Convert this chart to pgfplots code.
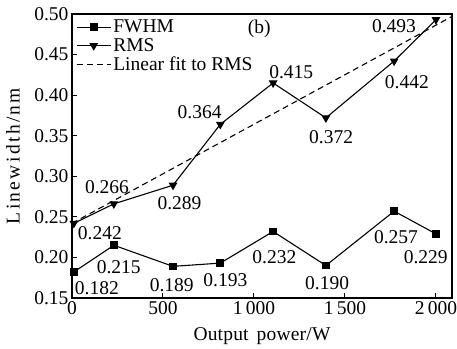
\documentclass[border=0pt]{standalone}
\usepackage{fontspec}
\setmainfont{Liberation Serif}
\newfontfamily\wideY{Liberation Serif}[LetterSpace=12]
\newfontfamily\wideX{Liberation Serif}[LetterSpace=1]
\usepackage{pgfplots}
\pgfplotsset{compat=1.18}
\newcommand{\fs}{\fontsize{19.5bp}{22bp}\selectfont}
\begin{document}
\begin{tikzpicture}
\begin{axis}[
  scale only axis,
  width=380bp, height=284bp,
  xmin=0, xmax=2088, ymin=0.15, ymax=0.50,
  axis line style={line width=1.2bp},
  tick align=inside,
  xtick pos=bottom, ytick pos=left,
  major tick length=5bp,
  tick style={line width=1bp, black},
  xtick={0,500,1000,1500,2000},
  xticklabels={0,500,1\,000,1\,500,2\,000},
  ytick={0.15,0.20,0.25,0.30,0.35,0.40,0.45,0.50},
  yticklabels={0.15,0.20,0.25,0.30,0.35,0.40,0.45,0.50},
  tick label style={font=\fs},
  xlabel={\wideX Output\hspace{3bp} power/W},
  ylabel={\wideY Linewidth/nm},
  label style={font=\fs},
  xlabel style={at={(axis description cs:0.5,-0.1338)}, anchor=center},
  ylabel style={at={(axis description cs:-0.1553,0.5)}, anchor=center},
  legend style={draw=none, fill=none, at={(0,1)}, anchor=north west,
    font=\fs, inner sep=1bp, row sep=0bp, xshift=3bp, yshift=-3bp},
  legend cell align=left,
  legend image code/.code={\draw[mark repeat=2,mark phase=2,#1] plot coordinates {(0bp,0bp) (17bp,0bp) (34bp,0bp)};},
]
\addplot[black, line width=1.1bp, mark=square*, mark size=3.3bp] coordinates {
  (10,0.182) (230,0.215) (555,0.189) (815,0.193) (1105,0.232) (1395,0.190) (1770,0.257) (2000,0.229)};
\addlegendentry{FWHM}
\addplot[black, line width=1.1bp, mark=triangle*, mark size=4bp, mark options={rotate=180}] coordinates {
  (10,0.242) (230,0.266) (555,0.289) (815,0.364) (1105,0.415) (1395,0.372) (1770,0.442) (2000,0.493)};
\addlegendentry{RMS}
\addplot[black, line width=1.1bp, dashed, dash pattern=on 6bp off 4bp] coordinates {(0,0.242) (2088,0.497)};
\addlegendentry{Linear fit to RMS}
\begin{scope}[every node/.style={font=\fs, inner sep=0pt}]
\node at (axis cs:137,0.162) {0.182};
\node at (axis cs:257,0.188) {0.215};
\node at (axis cs:548,0.166) {0.189};
\node at (axis cs:843,0.172) {0.193};
\node at (axis cs:1112,0.200) {0.232};
\node at (axis cs:1402,0.168) {0.190};
\node at (axis cs:1780,0.225) {0.257};
\node at (axis cs:1944,0.200) {0.229};
\node at (axis cs:153,0.230) {0.242};
\node at (axis cs:192,0.287) {0.266};
\node at (axis cs:591,0.267) {0.289};
\node at (axis cs:701,0.379) {0.364};
\node at (axis cs:1205,0.428) {0.415};
\node at (axis cs:1424,0.348) {0.372};
\node at (axis cs:1840,0.416) {0.442};
\node at (axis cs:1769,0.485) {0.493};
\node at (axis cs:1029,0.482) {(b)};
\end{scope}
\end{axis}
\pgfresetboundingbox
\useasboundingbox ([xshift=-72bp,yshift=-51bp]current axis.south west) rectangle ([xshift=5bp,yshift=14bp]current axis.north east);
\end{tikzpicture}
\end{document}
